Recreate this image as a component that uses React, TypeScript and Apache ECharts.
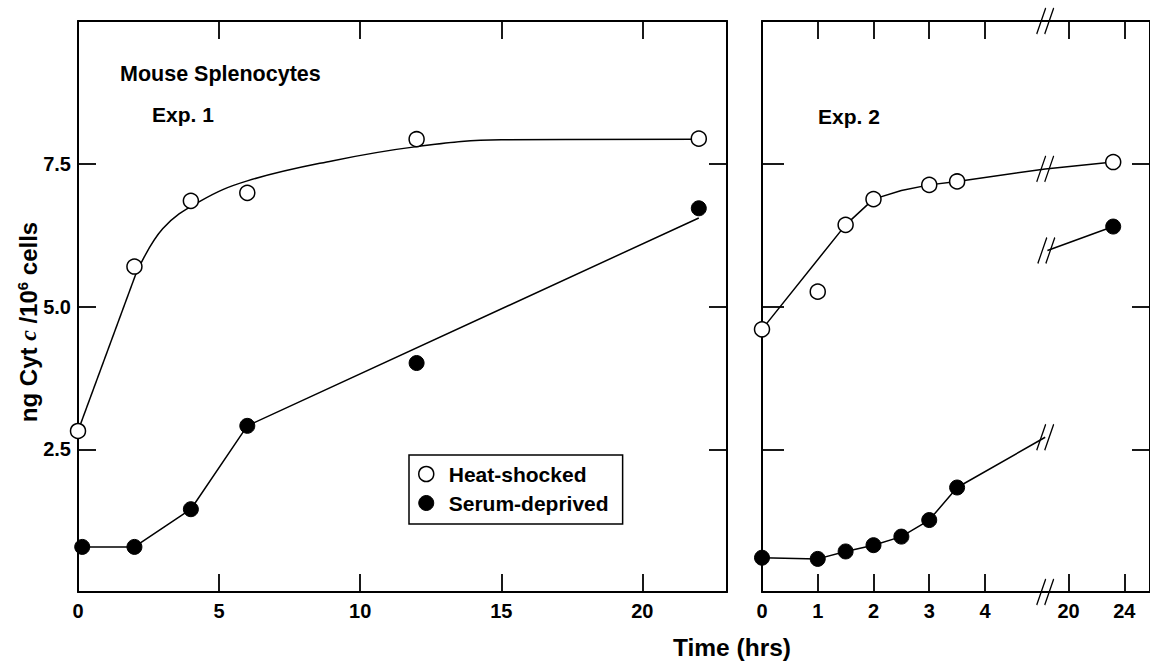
import React, { useEffect, useRef } from "react";
import * as echarts from "echarts";

// ---- Exp. 1 (left panel), time in hours ----
const heatLeftTime = [0, 2, 4, 6, 12, 22];
const heatLeftValue = [2.82, 5.7, 6.85, 6.99, 7.93, 7.94];
const serumLeftTime = [0.15, 2, 4, 6, 12, 22];
const serumLeftValue = [0.79, 0.79, 1.45, 2.91, 4.01, 6.72];
// fitted curve: straight rise, then a smooth plateau
const heatLeftRiseTime = [0, 2.05];
const heatLeftRiseValue = [2.82, 5.57];
const heatLeftCurveTime = [2.05, 3, 4.35, 6, 9, 12, 15, 22];
const heatLeftCurveValue = [5.57, 6.36, 6.85, 7.2, 7.55, 7.8, 7.92, 7.93];
const serumLeftLineTime = [0.15, 2, 4, 6, 22];
const serumLeftLineValue = [0.79, 0.79, 1.45, 2.91, 6.55];

// ---- Exp. 2 (right panel, broken time axis), time in hours ----
const heatRightTime = [0, 1, 1.5, 2, 3, 3.5, 23.2];
const heatRightValue = [4.6, 5.26, 6.43, 6.88, 7.13, 7.19, 7.53];
const serumRightTime = [0, 1, 1.5, 2, 2.5, 3, 3.5, 23.2];
const serumRightValue = [0.6, 0.58, 0.71, 0.82, 0.97, 1.26, 1.83, 6.4];
const heatRightCurveTime = [0, 1.5, 2, 2.5, 3, 3.5, 5.08, 23.2];
const heatRightCurveValue = [4.6, 6.43, 6.88, 7.03, 7.13, 7.19, 7.41, 7.53];
const serumRightLineTime = [0, 1, 1.5, 2, 2.5, 3, 3.5, 5.08];
const serumRightLineValue = [0.6, 0.58, 0.71, 0.82, 0.97, 1.26, 1.83, 2.71];
const serumRightTailTime = [5.12, 23.2];
const serumRightTailValue = [5.98, 6.4];
const breakTime = [5.08, 5.08, 5.08, 5.08, 5.1];
const breakValue = [10, 0, 7.41, 2.71, 5.98];

// ---- tick labels ----
const leftYTicks = ["2.5", "5.0", "7.5"];
const rightTickHours = [1, 2, 3, 4, 20, 24];
const rightLabelHours = [0, 1, 2, 3, 4, 20, 24];

// broken axis transform: 0–5 h linear, 20–24 h compressed
const toU = (t: number) => (t < 12 ? t : 5.5 + (t - 20) / 4);
const fromU = (u: number) => (u < 5.3 ? u : 20 + (u - 5.5) * 4);

const zip = (xs: number[], ys: number[], f = (x: number) => x) =>
  xs.map((x, i) => [f(x), ys[i]]);

const FONT = "'Liberation Sans', Arial, Helvetica, sans-serif";
const BLACK = "#000";
const SYM = 15;
const BREAK_PATH = "path://M0,26L9,0M8,26L17,0";

export default function App() {
  const ref = useRef<HTMLDivElement>(null);

  useEffect(() => {
    if (!ref.current) return;
    const chart = echarts.init(ref.current, undefined, { renderer: "svg" });

    const axisLine = { show: true, onZero: false, lineStyle: { color: BLACK, width: 2 } };
    const tick = (len: number) => ({
      show: true,
      inside: true,
      length: len,
      lineStyle: { color: BLACK, width: 1.8 },
    });
    const labelStyle = {
      color: BLACK,
      fontFamily: FONT,
      fontWeight: "bold" as const,
      fontSize: 20,
    };

    const openItem = { color: "#fff", borderColor: BLACK, borderWidth: 1.5, opacity: 1 };
    const filledItem = { color: BLACK, borderColor: BLACK, borderWidth: 1, opacity: 1 };
    const lineStyle = { color: BLACK, width: 1.5 };
    const lineBase = { type: "line", showSymbol: false, lineStyle, z: 2, silent: true };
    const pointBase = { type: "scatter", symbol: "circle", symbolSize: SYM, clip: false, z: 3 };

    const option: any = {
      animation: false,
      backgroundColor: "#fff",
      grid: [
        { left: 78, top: 21, width: 649, height: 571 },
        { left: 762, top: 21, width: 391, height: 571 },
      ],
      xAxis: [
        {
          gridIndex: 0,
          type: "value",
          position: "bottom",
          min: 0,
          max: 23,
          interval: 5,
          axisLine,
          axisTick: tick(18),
          axisLabel: { ...labelStyle, margin: 9, showMaxLabel: false },
          splitLine: { show: false },
        },
        {
          gridIndex: 0,
          type: "value",
          position: "top",
          min: 0,
          max: 23,
          interval: 5,
          axisLine,
          axisTick: tick(18),
          axisLabel: { show: false },
          splitLine: { show: false },
        },
        {
          gridIndex: 1,
          type: "value",
          position: "bottom",
          min: 0,
          max: 6.96,
          axisLine,
          axisTick: { ...tick(18), customValues: rightTickHours.map(toU) },
          axisLabel: {
            ...labelStyle,
            margin: 9,
            customValues: rightLabelHours.map(toU),
            formatter: (u: number) => String(Math.round(fromU(u))),
          },
          splitLine: { show: false },
        },
        {
          gridIndex: 1,
          type: "value",
          position: "top",
          min: 0,
          max: 6.96,
          axisLine,
          axisTick: { ...tick(18), customValues: rightTickHours.map(toU) },
          axisLabel: { show: false },
          splitLine: { show: false },
        },
      ],
      yAxis: [
        {
          gridIndex: 0,
          type: "value",
          position: "left",
          min: 0,
          max: 10,
          interval: 2.5,
          axisLine,
          axisTick: tick(18),
          axisLabel: {
            ...labelStyle,
            margin: 7,
            formatter: (v: number) => {
              const s = v.toFixed(1);
              return leftYTicks.includes(s) ? s : "";
            },
          },
          splitLine: { show: false },
        },
        {
          gridIndex: 0,
          type: "value",
          position: "right",
          min: 0,
          max: 10,
          interval: 2.5,
          axisLine,
          axisTick: tick(18),
          axisLabel: { show: false },
          splitLine: { show: false },
        },
        {
          gridIndex: 1,
          type: "value",
          position: "left",
          min: 0,
          max: 10,
          interval: 2.5,
          axisLine,
          axisTick: tick(22),
          axisLabel: { show: false },
          splitLine: { show: false },
        },
        {
          gridIndex: 1,
          type: "value",
          position: "right",
          min: 0,
          max: 10,
          interval: 2.5,
          axisLine,
          axisTick: tick(18),
          axisLabel: { show: false },
          splitLine: { show: false },
        },
      ],
      legend: {
        orient: "vertical",
        left: 409,
        top: 455,
        padding: [7, 14, 9, 9],
        borderColor: BLACK,
        borderWidth: 1.5,
        backgroundColor: "#fff",
        itemWidth: SYM,
        itemHeight: SYM,
        itemGap: 5,
        selectedMode: false,
        textStyle: {
          color: BLACK,
          fontFamily: FONT,
          fontWeight: "bold",
          fontSize: 21,
          lineHeight: 24,
          padding: [0, 0, 0, 10],
        },
        data: [
          { name: "Heat-shocked", icon: "circle", itemStyle: openItem },
          { name: "Serum-deprived", icon: "circle", itemStyle: filledItem },
        ],
      },
      series: [
        // left panel lines
        {
          ...lineBase,
          name: "Heat-shocked rise 1",
          xAxisIndex: 0,
          yAxisIndex: 0,
          data: zip(heatLeftRiseTime, heatLeftRiseValue),
        },
        {
          ...lineBase,
          name: "Heat-shocked fit 1",
          xAxisIndex: 0,
          yAxisIndex: 0,
          data: zip(heatLeftCurveTime, heatLeftCurveValue),
          smooth: 0.4,
        },
        {
          ...lineBase,
          name: "Serum-deprived line 1",
          xAxisIndex: 0,
          yAxisIndex: 0,
          data: zip(serumLeftLineTime, serumLeftLineValue),
        },
        // right panel lines
        {
          ...lineBase,
          name: "Heat-shocked fit 2",
          xAxisIndex: 2,
          yAxisIndex: 2,
          data: zip(heatRightCurveTime, heatRightCurveValue, toU),
        },
        {
          ...lineBase,
          name: "Serum-deprived line 2",
          xAxisIndex: 2,
          yAxisIndex: 2,
          data: zip(serumRightLineTime, serumRightLineValue, toU),
        },
        {
          ...lineBase,
          name: "Serum-deprived line 2b",
          xAxisIndex: 2,
          yAxisIndex: 2,
          data: zip(serumRightTailTime, serumRightTailValue, toU),
        },
        // break marks
        {
          name: "breaks",
          type: "scatter",
          xAxisIndex: 2,
          yAxisIndex: 2,
          data: zip(breakTime, breakValue, toU),
          symbol: BREAK_PATH,
          symbolSize: [17, 26],
          itemStyle: { color: "rgba(0,0,0,0)", borderColor: BLACK, borderWidth: 1.5, opacity: 1 },
          clip: false,
          silent: true,
          z: 4,
        },
        // points
        {
          ...pointBase,
          name: "Heat-shocked",
          xAxisIndex: 0,
          yAxisIndex: 0,
          data: zip(heatLeftTime, heatLeftValue),
          itemStyle: openItem,
        },
        {
          ...pointBase,
          name: "Serum-deprived",
          xAxisIndex: 0,
          yAxisIndex: 0,
          data: zip(serumLeftTime, serumLeftValue),
          itemStyle: filledItem,
        },
        {
          ...pointBase,
          name: "Heat-shocked",
          xAxisIndex: 2,
          yAxisIndex: 2,
          data: zip(heatRightTime, heatRightValue, toU),
          itemStyle: openItem,
        },
        {
          ...pointBase,
          name: "Serum-deprived",
          xAxisIndex: 2,
          yAxisIndex: 2,
          data: zip(serumRightTime, serumRightValue, toU),
          itemStyle: filledItem,
        },
      ],
      graphic: [
        {
          type: "text",
          x: 28,
          y: 322,
          rotation: Math.PI / 2,
          style: {
            text: "{a|ng Cyt }{i|c}{a| /10}{s|6}{a| cells}",
            align: "center",
            verticalAlign: "middle",
            rich: {
              a: { fontFamily: FONT, fontWeight: "bold", fontSize: 24, fill: BLACK },
              i: {
                fontFamily: "'Liberation Serif', serif",
                fontStyle: "italic",
                fontWeight: "bold",
                fontSize: 24,
                fill: BLACK,
              },
              s: {
                fontFamily: FONT,
                fontWeight: "bold",
                fontSize: 15,
                fill: BLACK,
                lineHeight: 15,
                padding: [0, 0, 12, 0],
              },
            },
          },
        },
        {
          type: "text",
          left: 120,
          top: 63,
          style: {
            text: "Mouse Splenocytes",
            fontFamily: FONT,
            fontWeight: "bold",
            fontSize: 21.5,
            fill: BLACK,
          },
        },
        {
          type: "text",
          left: 152,
          top: 104,
          style: { text: "Exp. 1", fontFamily: FONT, fontWeight: "bold", fontSize: 21, fill: BLACK },
        },
        {
          type: "text",
          left: 818,
          top: 106,
          style: { text: "Exp. 2", fontFamily: FONT, fontWeight: "bold", fontSize: 21, fill: BLACK },
        },
        {
          type: "text",
          left: 673,
          top: 635,
          style: {
            text: "Time (hrs)",
            fontFamily: FONT,
            fontWeight: "bold",
            fontSize: 24.5,
            fill: BLACK,
          },
        },
      ],
    };

    chart.setOption(option);
    return () => chart.dispose();
  }, []);

  return (
    <div
      ref={ref}
      style={{ position: "fixed", left: 0, top: 0, width: 1150, height: 662, background: "#fff" }}
    />
  );
}
